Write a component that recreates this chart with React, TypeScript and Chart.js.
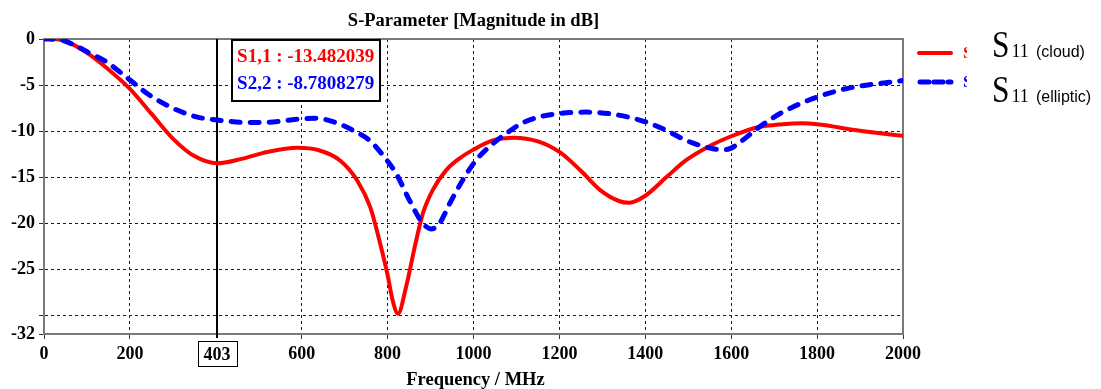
import React, { useEffect, useRef } from 'react';
import { Chart, registerables } from 'chart.js';

Chart.register(...registerables);

// S11 of the cloud-shaped element (dB vs MHz)
const cloudFreq = [
  0, 40, 100, 150, 200, 250, 300, 350, 403, 460, 520, 590, 640, 690, 730, 760,
  780, 800, 812, 824, 843, 863, 882, 905, 936, 967, 1000, 1045, 1095, 1150,
  1200, 1250, 1295, 1340, 1363, 1400, 1450, 1495, 1550, 1600, 1660, 1720,
  1765, 1800, 1900, 2000,
];
const cloudDb = [
  0, -0.1, -1.5, -3.3, -5.4, -8.1, -10.8, -12.7, -13.482039, -13.0, -12.25,
  -11.8, -12.07, -13.2, -15.4, -18.3, -21.7, -25.6, -28.4, -29.8, -26.9, -22.6,
  -18.95, -16.4, -14.25, -12.97, -12.0, -11.0, -10.7, -11.1, -12.25, -14.3,
  -16.4, -17.6, -17.75, -17.0, -14.95, -13.15, -11.6, -10.55, -9.6, -9.25,
  -9.15, -9.25, -9.95, -10.5,
];

// S11 of the elliptic element (dB vs MHz)
const ellipticFreq = [
  0, 40, 70, 107, 146, 200, 246, 300, 355, 403, 470, 533, 588, 634, 681, 719,
  758, 789, 820, 851, 882, 902, 921, 944, 975, 1006, 1045, 1090, 1110, 1153,
  1200, 1262, 1324, 1400, 1448, 1495, 1557, 1588, 1626, 1661, 1721, 1800,
  1876, 1950, 2000,
];
const ellipticDb = [
  0, -0.1, -0.65, -1.55, -2.5, -4.45, -6.1, -7.5, -8.45, -8.7808279, -9.05,
  -9.0, -8.7, -8.6, -9.1, -9.9, -11.0, -12.6, -14.6, -17.5, -20.0, -20.6,
  -20.0, -17.9, -15.3, -13.15, -11.35, -9.8, -9.2, -8.45, -8.08, -7.93, -8.15,
  -8.98, -9.9, -11.0, -11.9, -12.0, -11.0, -9.7, -7.9, -6.3, -5.3, -4.8, -4.5,
];

// 400 is replaced by the marker readout at 403
const xTicks = [0, 200, 600, 800, 1000, 1200, 1400, 1600, 1800, 2000];
const yTicks = [-32, -30, -25, -20, -15, -10, -5, 0];
const yUnlabelled = [-30];

const markerFreq = 403;
const markerReadout = ['S1,1 : -13.482039', 'S2,2 : -8.7808279'];

const titleText = 'S-Parameter [Magnitude in dB]';
const xTitleText = 'Frequency / MHz';
const legendNotes = [
  { sub: '11', tag: '(cloud)' },
  { sub: '11', tag: '(elliptic)' },
];

const RED = '#ff0000';
const BLUE = '#0000ff';
const SERIF = '"Liberation Serif", "Times New Roman", serif';
const SANS = '"Liberation Sans", Arial, sans-serif';
const AXIS_GREY = '#7a7a7a';
const GRID = '#1a1a1a';

const decorations = {
  id: 'decorations',
  beforeDatasetsDraw(chart: any) {
    const { ctx, chartArea: a, scales } = chart;
    ctx.save();
    // top and right frame edges
    ctx.strokeStyle = AXIS_GREY;
    ctx.lineWidth = 2;
    ctx.beginPath();
    ctx.moveTo(a.left, a.top);
    ctx.lineTo(a.right, a.top);
    ctx.lineTo(a.right, a.bottom);
    ctx.stroke();
    // marker cursor
    const mx = Math.round(scales.x.getPixelForValue(markerFreq));
    ctx.strokeStyle = '#000';
    ctx.lineWidth = 2;
    ctx.beginPath();
    ctx.moveTo(mx, a.top);
    ctx.lineTo(mx, a.bottom + 4);
    ctx.stroke();
    ctx.restore();
  },
  afterDraw(chart: any) {
    const { ctx, chartArea: a, scales } = chart;
    const mx = Math.round(scales.x.getPixelForValue(markerFreq));
    ctx.save();

    // title
    ctx.fillStyle = '#000';
    ctx.textAlign = 'center';
    ctx.textBaseline = 'alphabetic';
    ctx.font = `bold 18.5px ${SERIF}`;
    ctx.fillText(titleText, (a.left + a.right) / 2, 26);

    // x axis title
    ctx.font = `bold 18.5px ${SERIF}`;
    ctx.fillText(xTitleText, (a.left + a.right) / 2 + 2, 385);

    // marker frequency box under the axis
    ctx.font = `bold 18px ${SERIF}`;
    const label = String(markerFreq);
    const lw = ctx.measureText(label).width;
    const bw = lw + 12;
    ctx.fillStyle = '#fff';
    ctx.fillRect(mx - bw / 2, 342, bw, 25);
    ctx.strokeStyle = '#000';
    ctx.lineWidth = 1;
    ctx.strokeRect(Math.round(mx - bw / 2) + 0.5, 341.5, Math.round(bw), 25);
    ctx.fillStyle = '#000';
    ctx.textBaseline = 'middle';
    ctx.fillText(label, mx, 355);

    // marker readout box
    const bx = scales.x.getPixelForValue(markerFreq) + 14;
    ctx.fillStyle = '#fff';
    ctx.fillRect(bx, a.top, 150, 62);
    ctx.strokeStyle = '#000';
    ctx.lineWidth = 2;
    ctx.strokeRect(Math.round(bx) + 1, a.top + 1, 148, 61);
    ctx.font = `bold 19px ${SERIF}`;
    ctx.textAlign = 'left';
    ctx.textBaseline = 'alphabetic';
    ctx.fillStyle = RED;
    ctx.fillText(markerReadout[0], bx + 6, 61.5);
    ctx.fillStyle = BLUE;
    ctx.fillText(markerReadout[1], bx + 6, 89);

    // legend swatches
    const lx = a.right + 14;
    ctx.lineCap = 'round';
    ctx.strokeStyle = RED;
    ctx.lineWidth = 4;
    ctx.beginPath();
    ctx.moveTo(lx + 2, 53);
    ctx.lineTo(lx + 34, 53);
    ctx.stroke();
    ctx.strokeStyle = BLUE;
    ctx.lineWidth = 5;
    ctx.setLineDash([9, 5]);
    ctx.beginPath();
    ctx.moveTo(lx + 3, 82);
    ctx.lineTo(lx + 34, 82);
    ctx.stroke();
    ctx.setLineDash([]);

    // clipped series names next to the swatches
    ctx.save();
    ctx.beginPath();
    ctx.rect(lx + 40, 30, 10, 70);
    ctx.clip();
    ctx.font = `bold 17px ${SERIF}`;
    ctx.textBaseline = 'middle';
    ctx.fillStyle = RED;
    ctx.fillText('S1,1', lx + 46, 54);
    ctx.fillStyle = BLUE;
    ctx.fillText('S2,2', lx + 46, 83);
    ctx.restore();

    // descriptive legend notes
    const baselines = [56.5, 101.5];
    legendNotes.forEach((n, i) => {
      const y = baselines[i];
      ctx.fillStyle = '#000';
      ctx.textBaseline = 'alphabetic';
      ctx.save();
      ctx.translate(992, y);
      ctx.scale(0.85, 1);
      ctx.font = `37px ${SERIF}`;
      ctx.fillText('S', 0, 0);
      ctx.restore();
      ctx.font = `18px ${SERIF}`;
      ctx.fillText(n.sub, 1011.5, y);
      ctx.font = `16px ${SANS}`;
      ctx.fillText(n.tag, 1036, y);
    });

    ctx.restore();
  },
};

export default function App() {
  const canvasRef = useRef<HTMLCanvasElement | null>(null);

  useEffect(() => {
    const canvas = canvasRef.current;
    if (!canvas) return;
    const tickFont = { family: SERIF, size: 18, weight: 'bold' as const };

    const chart = new Chart(canvas, {
      type: 'line',
      data: {
        datasets: [
          {
            label: 'S2,2',
            data: ellipticFreq.map((f, i) => ({ x: f, y: ellipticDb[i] })),
            borderColor: BLUE,
            borderWidth: 5,
            borderDash: [9, 10],
            borderCapStyle: 'round',
            borderJoinStyle: 'round',
            cubicInterpolationMode: 'monotone',
            pointRadius: 0,
            fill: false,
            order: 0,
          },
          {
            label: 'S1,1',
            data: cloudFreq.map((f, i) => ({ x: f, y: cloudDb[i] })),
            borderColor: RED,
            borderWidth: 4,
            borderCapStyle: 'round',
            borderJoinStyle: 'round',
            cubicInterpolationMode: 'monotone',
            pointRadius: 0,
            fill: false,
            order: 1,
          },
        ],
      },
      options: {
        responsive: false,
        animation: false,
        devicePixelRatio: 1,
        layout: { padding: { top: 39, right: 198, bottom: 0, left: 0 } },
        plugins: {
          legend: { display: false },
          title: { display: false },
          tooltip: { enabled: false },
        },
        scales: {
          x: {
            type: 'linear',
            min: 0,
            max: 2000,
            afterBuildTicks: (s: any) => {
              s.ticks = xTicks.map((v) => ({ value: v }));
            },
            afterFit: (s: any) => {
              s.height = 55;
            },
            ticks: {
              autoSkip: false,
              maxRotation: 0,
              padding: 5,
              color: '#000',
              font: tickFont,
              callback: (v: any) => String(v),
            },
            grid: {
              color: (c: any) => (c.tick && (c.tick.value === 0 || c.tick.value === 2000) ? 'rgba(0,0,0,0)' : GRID),
              lineWidth: 1,
              tickLength: 5,
              tickColor: '#333',
              tickWidth: 1,
            },
            border: { display: true, color: AXIS_GREY, width: 2, dash: [3, 3] },
          },
          y: {
            type: 'linear',
            min: -32,
            max: 0,
            afterBuildTicks: (s: any) => {
              s.ticks = yTicks.map((v) => ({ value: v }));
            },
            afterFit: (s: any) => {
              s.width = 44;
            },
            ticks: {
              autoSkip: false,
              padding: 4,
              color: '#000',
              font: tickFont,
              callback: (v: any) => (yUnlabelled.includes(v) ? '' : String(v)),
            },
            grid: {
              color: (c: any) => (c.tick && (c.tick.value === -32 || c.tick.value === 0) ? 'rgba(0,0,0,0)' : GRID),
              lineWidth: 1,
              tickLength: 5,
              tickColor: '#333',
              tickWidth: 1,
            },
            border: { display: true, color: AXIS_GREY, width: 2, dash: [3, 3] },
          },
        },
      },
      plugins: [decorations],
    });

    return () => chart.destroy();
  }, []);

  return (
    <div style={{ position: 'fixed', left: 0, top: 0, width: 1101, height: 389, background: '#fff' }}>
      <canvas ref={canvasRef} width={1101} height={389} style={{ width: 1101, height: 389, display: 'block' }} />
    </div>
  );
}
